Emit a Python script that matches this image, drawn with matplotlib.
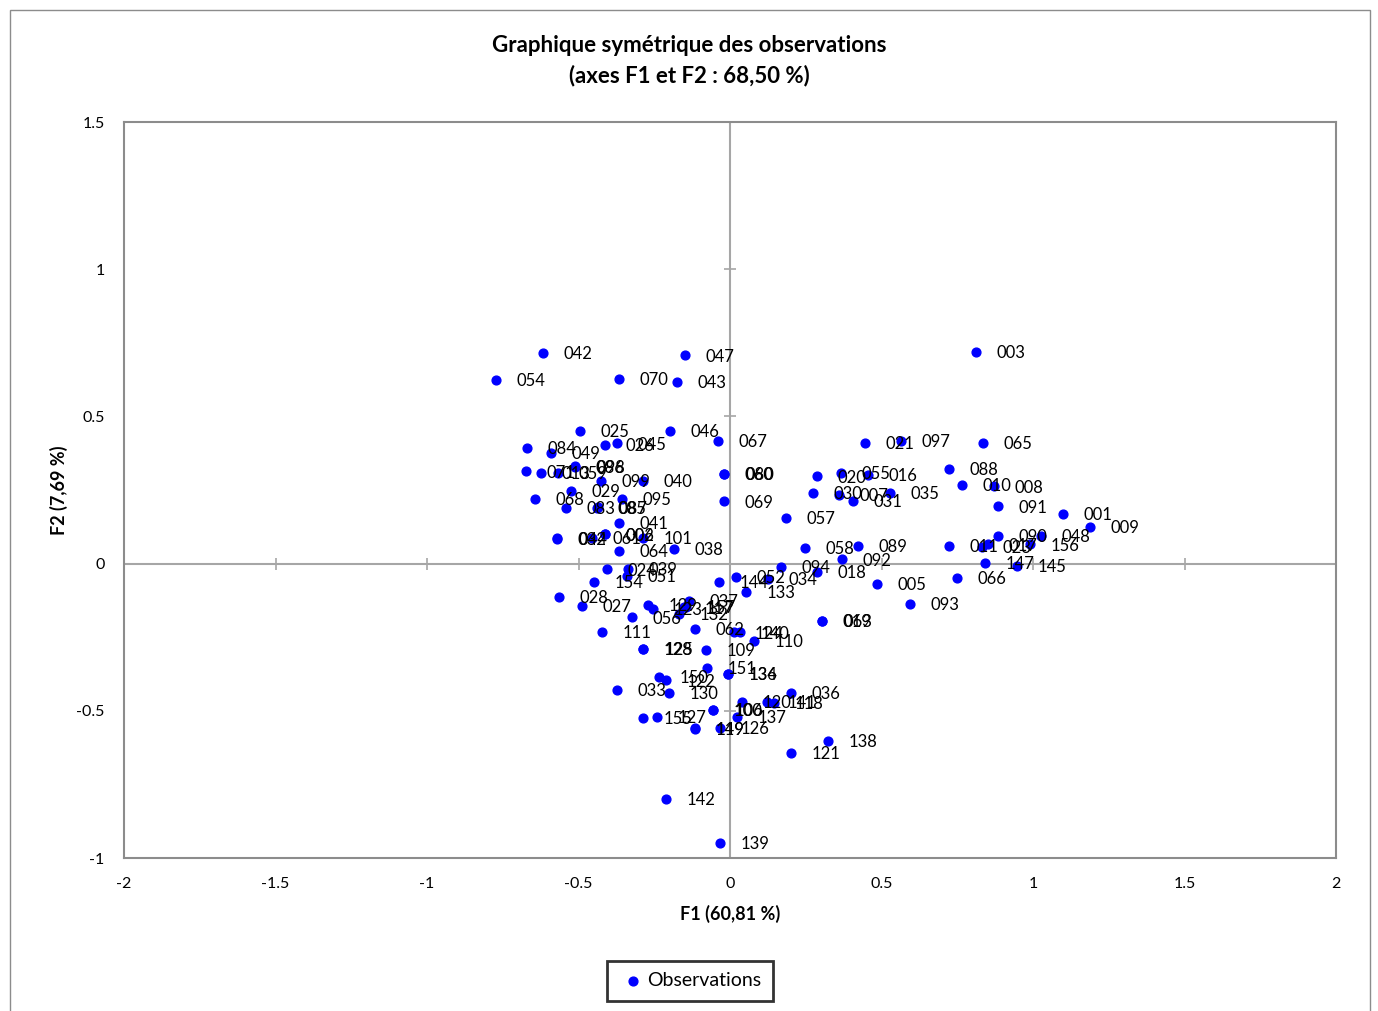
import matplotlib.pyplot as plt
from matplotlib.patches import Rectangle

plt.rcParams['font.family'] = ['Lato', 'DejaVu Sans']

# observation labels and coordinates on F1 / F2
labels = ['042', '054', '047', '070', '043', '003', '025', '046', '067', '084',
          '049', '026', '045', '071', '013', '059', '086', '098', '099', '040',
          '060', '080', '029', '068', '095', '083', '085', '087', '069', '041',
          '032', '044', '061', '002', '006', '101', '064', '038', '024', '039',
          '051', '154', '028', '027', '056', '129', '123', '037', '132', '117',
          '157', '111', '062', '124', '140', '110', '128', '125', '109', '151',
          '136', '134', '150', '122', '033', '130', '036', '120', '141', '118',
          '100', '106', '137', '155', '127', '119', '149', '126', '121', '138',
          '142', '139', '144', '052', '034', '133', '094', '018', '092', '005',
          '093', '019', '063', '066', '058', '089', '021', '097', '065', '020',
          '055', '016', '030', '007', '031', '035', '088', '010', '008', '091',
          '057', '090', '001', '009', '048', '156', '011', '023', '017', '147',
          '145']
f1 = [-0.617, -0.772, -0.149, -0.366, -0.175, 0.812, -0.495, -0.198, -0.040, -0.670,
      -0.591, -0.413, -0.373, -0.673, -0.624, -0.568, -0.512, -0.510, -0.426, -0.287,
      -0.020, -0.019, -0.525, -0.644, -0.356, -0.541, -0.439, -0.437, -0.020, -0.366,
      -0.571, -0.570, -0.455, -0.413, -0.412, -0.287, -0.366, -0.185, -0.406, -0.337,
      -0.340, -0.449, -0.564, -0.488, -0.323, -0.271, -0.254, -0.135, -0.168, -0.152,
      -0.145, -0.422, -0.116, 0.013, 0.033, 0.079, -0.287, -0.286, -0.079, -0.076,
      -0.007, -0.006, -0.234, -0.211, -0.373, -0.201, 0.201, 0.040, 0.122, 0.145,
      -0.056, -0.055, 0.023, -0.287, -0.241, -0.116, -0.115, -0.033, 0.201, 0.323,
      -0.211, -0.033, -0.036, 0.020, 0.125, 0.053, 0.168, 0.287, 0.370, 0.485,
      0.594, 0.304, 0.305, 0.749, 0.248, 0.422, 0.446, 0.564, 0.835, 0.287,
      0.366, 0.455, 0.274, 0.360, 0.406, 0.528, 0.723, 0.766, 0.871, 0.884,
      0.185, 0.884, 1.099, 1.188, 1.026, 0.990, 0.723, 0.832, 0.851, 0.842,
      0.947]
f2 = [0.717, 0.625, 0.707, 0.628, 0.618, 0.720, 0.452, 0.452, 0.418, 0.394,
      0.377, 0.404, 0.408, 0.313, 0.309, 0.309, 0.329, 0.331, 0.282, 0.282,
      0.306, 0.305, 0.248, 0.221, 0.221, 0.190, 0.190, 0.191, 0.211, 0.139,
      0.085, 0.086, 0.088, 0.099, 0.100, 0.088, 0.044, 0.051, -0.020, -0.017,
      -0.041, -0.061, -0.112, -0.143, -0.183, -0.139, -0.153, -0.126, -0.170, -0.149,
      -0.146, -0.231, -0.221, -0.234, -0.234, -0.262, -0.289, -0.290, -0.292, -0.353,
      -0.374, -0.375, -0.384, -0.397, -0.428, -0.438, -0.438, -0.469, -0.469, -0.472,
      -0.496, -0.497, -0.520, -0.523, -0.520, -0.560, -0.561, -0.557, -0.642, -0.601,
      -0.798, -0.948, -0.061, -0.044, -0.051, -0.095, -0.010, -0.027, 0.014, -0.068,
      -0.136, -0.194, -0.195, -0.048, 0.054, 0.061, 0.411, 0.418, 0.411, 0.296,
      0.309, 0.302, 0.241, 0.234, 0.214, 0.241, 0.323, 0.268, 0.262, 0.194,
      0.156, 0.095, 0.170, 0.126, 0.095, 0.065, 0.061, 0.058, 0.065, 0.003,
      -0.007]

xticks = [-2, -1.5, -1, -0.5, 0, 0.5, 1, 1.5, 2]
yticks = [-1, -0.5, 0, 0.5, 1, 1.5]

fig = plt.figure(figsize=(13.78, 10.11), dpi=100)
fig.patches.append(Rectangle((10 / 1378, -0.05), 1360 / 1378, 1.05 - 10 / 1011,
                             transform=fig.transFigure, fill=False,
                             edgecolor='#8c8c8c', linewidth=1))
ax = fig.add_axes([124 / 1378, 153 / 1011, 1212 / 1378, 736 / 1011])

ax.set_xlim(-2, 2)
ax.set_ylim(-1, 1.5)
for s in ax.spines.values():
    s.set_color('#8c8c8c')
    s.set_linewidth(1.5)

# axes crossing at origin with their tick marks
ax.axhline(0, color='#a6a6a6', linewidth=1.5, zorder=1)
ax.axvline(0, color='#a6a6a6', linewidth=1.5, zorder=1)
ax.plot(xticks[1:-1], [0] * 7, linestyle='none', marker='|', markersize=9,
        color='#a6a6a6', markeredgewidth=1.2, zorder=1)
ax.plot([0] * 4, yticks[1:-1], linestyle='none', marker='_', markersize=9,
        color='#a6a6a6', markeredgewidth=1.2, zorder=1)

ax.set_xticks(xticks)
ax.set_xticklabels(['-2', '-1.5', '-1', '-0.5', '0', '0.5', '1', '1.5', '2'])
ax.set_yticks(yticks)
ax.set_yticklabels(['-1', '-0.5', '0', '0.5', '1', '1.5'])
ax.tick_params(length=0, labelsize=11.5, pad=14)

ax.scatter(f1, f2, s=40, color='#0000ff', zorder=3, label='Observations')
for lab, x, y in zip(labels, f1, f2):
    ax.annotate(lab, (x, y), xytext=(15, -1), textcoords='offset points',
                fontsize=12, va='center', ha='left', zorder=4)

ax.set_xlabel('F1 (60,81 %)', fontsize=13, fontweight='bold', labelpad=10)
ax.set_ylabel('F2 (7,69 %)', fontsize=13, fontweight='bold', labelpad=6)
fig.text(0.5, 1 - 46 / 1011, 'Graphique symétrique des observations',
         ha='center', va='center', fontsize=16, fontweight='bold')
fig.text(0.5, 1 - 76 / 1011, '(axes F1 et F2 : 68,50 %)',
         ha='center', va='center', fontsize=16, fontweight='bold')

leg = fig.legend(loc='center', bbox_to_anchor=(690 / 1378, 1 - 981 / 1011),
                 fontsize=14, frameon=True, fancybox=False, handletextpad=0.0,
                 handlelength=1.5, markerscale=1.0, borderpad=0.6)
leg.get_frame().set_edgecolor('black')
leg.get_frame().set_linewidth(2)

fig.savefig('out.png', dpi=100)
